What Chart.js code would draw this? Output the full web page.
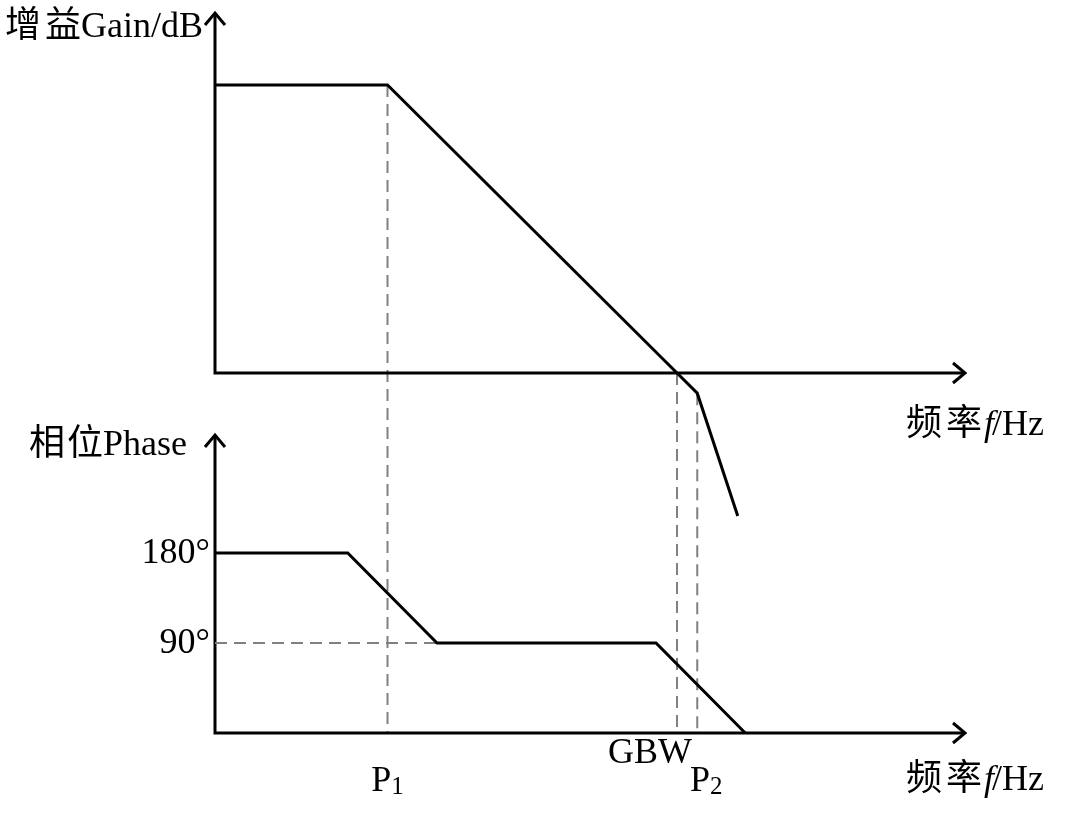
<!DOCTYPE html>
<html>
<head>
<meta charset="utf-8">
<style>
  html, body { margin: 0; padding: 0; background: #fff; }
  canvas { display: block; }
</style>
<script src="https://cdn.jsdelivr.net/npm/chart.js@4.4.1/dist/chart.umd.min.js"></script>
</head>
<body>
<canvas id="bode" width="1065" height="813"></canvas>
<script>
// frequency in decades (arbitrary units), gain in dB, phase in degrees
const gainFreq = [0, 2.3, 6.16, 6.43, 6.97];
const gainDb = [80, 80, 0, -5.6, -39.7];

const phaseFreq = [0, 1.77, 2.96, 5.88, 7.07];
const phaseDeg = [180, 180, 90, 90, 0];

// dashed guides drop from these gain breakpoints (P1, GBW, P2)
const markerIdx = [1, 2, 3];
const phaseTicks = [180, 90];
const phaseTickLabels = ['180°', '90°'];

const SERIF = '"Liberation Serif", "Noto Sans CJK SC", serif';
const FONT = '36px ' + SERIF;
const GRAY = '#808080';

function pts(xs, ys) {
  return xs.map((x, i) => ({ x: x, y: ys[i] }));
}

function arrowUp(ctx, x, y) {
  ctx.beginPath();
  ctx.moveTo(x - 10, y + 12);
  ctx.lineTo(x, y);
  ctx.lineTo(x + 10, y + 12);
  ctx.stroke();
}
function arrowRight(ctx, x, y) {
  ctx.beginPath();
  ctx.moveTo(x - 12, y - 10);
  ctx.lineTo(x, y);
  ctx.lineTo(x - 12, y + 10);
  ctx.stroke();
}

// draw text made of pieces [text, font, dy, gapAfter]
function pieces(ctx, parts, x, y, align) {
  let total = 0;
  parts.forEach(p => { ctx.font = p[1]; total += ctx.measureText(p[0]).width + (p[3] || 0); });
  let cx = align === 'right' ? x - total : (align === 'center' ? x - total / 2 : x);
  ctx.textAlign = 'left';
  parts.forEach(p => {
    ctx.font = p[1];
    ctx.fillText(p[0], cx, y + (p[2] || 0));
    cx += ctx.measureText(p[0]).width + (p[3] || 0);
  });
}

const bodeAxes = {
  id: 'bodeAxes',
  beforeDatasetsDraw(chart) {
    const ctx = chart.ctx;
    const xs = chart.scales.x, g = chart.scales.yG, p = chart.scales.yP;
    const x0 = xs.getPixelForValue(0), xEnd = xs.getPixelForValue(10);
    const g0 = g.getPixelForValue(0), p0 = p.getPixelForValue(0);
    ctx.save();
    // dashed guides
    ctx.strokeStyle = GRAY;
    ctx.lineWidth = 2;
    ctx.setLineDash([12, 7]);
    markerIdx.forEach(i => {
      const px = xs.getPixelForValue(gainFreq[i]);
      ctx.beginPath();
      ctx.moveTo(px, g.getPixelForValue(gainDb[i]));
      ctx.lineTo(px, p0);
      ctx.stroke();
    });
    ctx.setLineDash([]);
    // axes
    ctx.strokeStyle = '#000';
    ctx.lineWidth = 3;
    ctx.lineCap = 'butt';
    const gTop = g.getPixelForValue(100), pTop = p.getPixelForValue(298);
    ctx.beginPath();
    ctx.moveTo(x0, gTop); ctx.lineTo(x0, g0); ctx.lineTo(xEnd, g0);
    ctx.moveTo(x0, pTop); ctx.lineTo(x0, p0); ctx.lineTo(xEnd, p0);
    ctx.stroke();
    arrowUp(ctx, x0, gTop);
    arrowUp(ctx, x0, pTop);
    arrowRight(ctx, xEnd, g0);
    arrowRight(ctx, xEnd, p0);
    ctx.restore();
  },
  afterDatasetsDraw(chart) {
    const ctx = chart.ctx;
    const xs = chart.scales.x, p = chart.scales.yP;
    const x0 = xs.getPixelForValue(0);
    const p0 = p.getPixelForValue(0);
    ctx.save();
    ctx.fillStyle = '#000';
    ctx.font = FONT;
    // phase tick labels
    ctx.textAlign = 'right';
    ctx.textBaseline = 'middle';
    phaseTicks.forEach((t, i) => {
      ctx.fillText(phaseTickLabels[i], x0 - 5, p.getPixelForValue(t) + 1);
    });
    ctx.textBaseline = 'alphabetic';
    // axis titles
    const ital = 'italic ' + FONT;
    pieces(ctx, [['增', FONT, 0, 4], ['益', FONT], ['Gain/dB', FONT]], x0 - 12, 37, 'right');
    pieces(ctx, [['相', FONT, 0, 2], ['位', FONT], ['Phase', FONT]], x0 - 28, 455, 'right');
    pieces(ctx, [['频', FONT, 0, 4], ['率', FONT, 0, 2], ['f', ital, 0, -2], ['/Hz', FONT]], 1044, 435, 'right');
    pieces(ctx, [['频', FONT, 0, 4], ['率', FONT, 0, 2], ['f', ital, 0, -2], ['/Hz', FONT]], 1044, 790, 'right');
    // marker labels
    const sub = '25px ' + SERIF;
    const pP1 = xs.getPixelForValue(gainFreq[markerIdx[0]]);
    const pGbw = xs.getPixelForValue(gainFreq[markerIdx[1]]);
    const pP2 = xs.getPixelForValue(gainFreq[markerIdx[2]]);
    pieces(ctx, [['P', FONT], ['1', sub, 3]], pP1, p0 + 58, 'center');
    ctx.font = FONT;
    ctx.textAlign = 'center';
    ctx.fillText('GBW', pGbw - 27, p0 + 30);
    pieces(ctx, [['P', FONT], ['2', sub, 3]], pP2 + 9, p0 + 58, 'center');
    ctx.restore();
  }
};

new Chart(document.getElementById('bode'), {
  type: 'line',
  data: {
    datasets: [
      {
        label: 'Gain',
        data: pts(gainFreq, gainDb),
        yAxisID: 'yG',
        borderColor: '#000',
        borderWidth: 3,
        pointRadius: 0,
        tension: 0,
        clip: false
      },
      {
        label: 'Phase',
        data: pts(phaseFreq, phaseDeg),
        yAxisID: 'yP',
        borderColor: '#000',
        borderWidth: 3,
        pointRadius: 0,
        tension: 0,
        clip: false
      },
      {
        label: '90 guide',
        data: pts([0, phaseFreq[2]], [90, 90]),
        yAxisID: 'yP',
        borderColor: GRAY,
        borderWidth: 2,
        borderDash: [12, 7],
        pointRadius: 0,
        order: 5
      }
    ]
  },
  options: {
    responsive: false,
    animation: false,
    events: [],
    layout: { padding: { left: 215, right: 100, top: 13, bottom: 80 } },
    plugins: { legend: { display: false }, tooltip: { enabled: false } },
    scales: {
      x: { type: 'linear', min: 0, max: 10, display: false },
      yG: { type: 'linear', min: -100, max: 100, display: false },
      yP: { type: 'linear', min: 0, max: 720, display: false }
    }
  },
  plugins: [bodeAxes]
});
</script>
</body>
</html>
